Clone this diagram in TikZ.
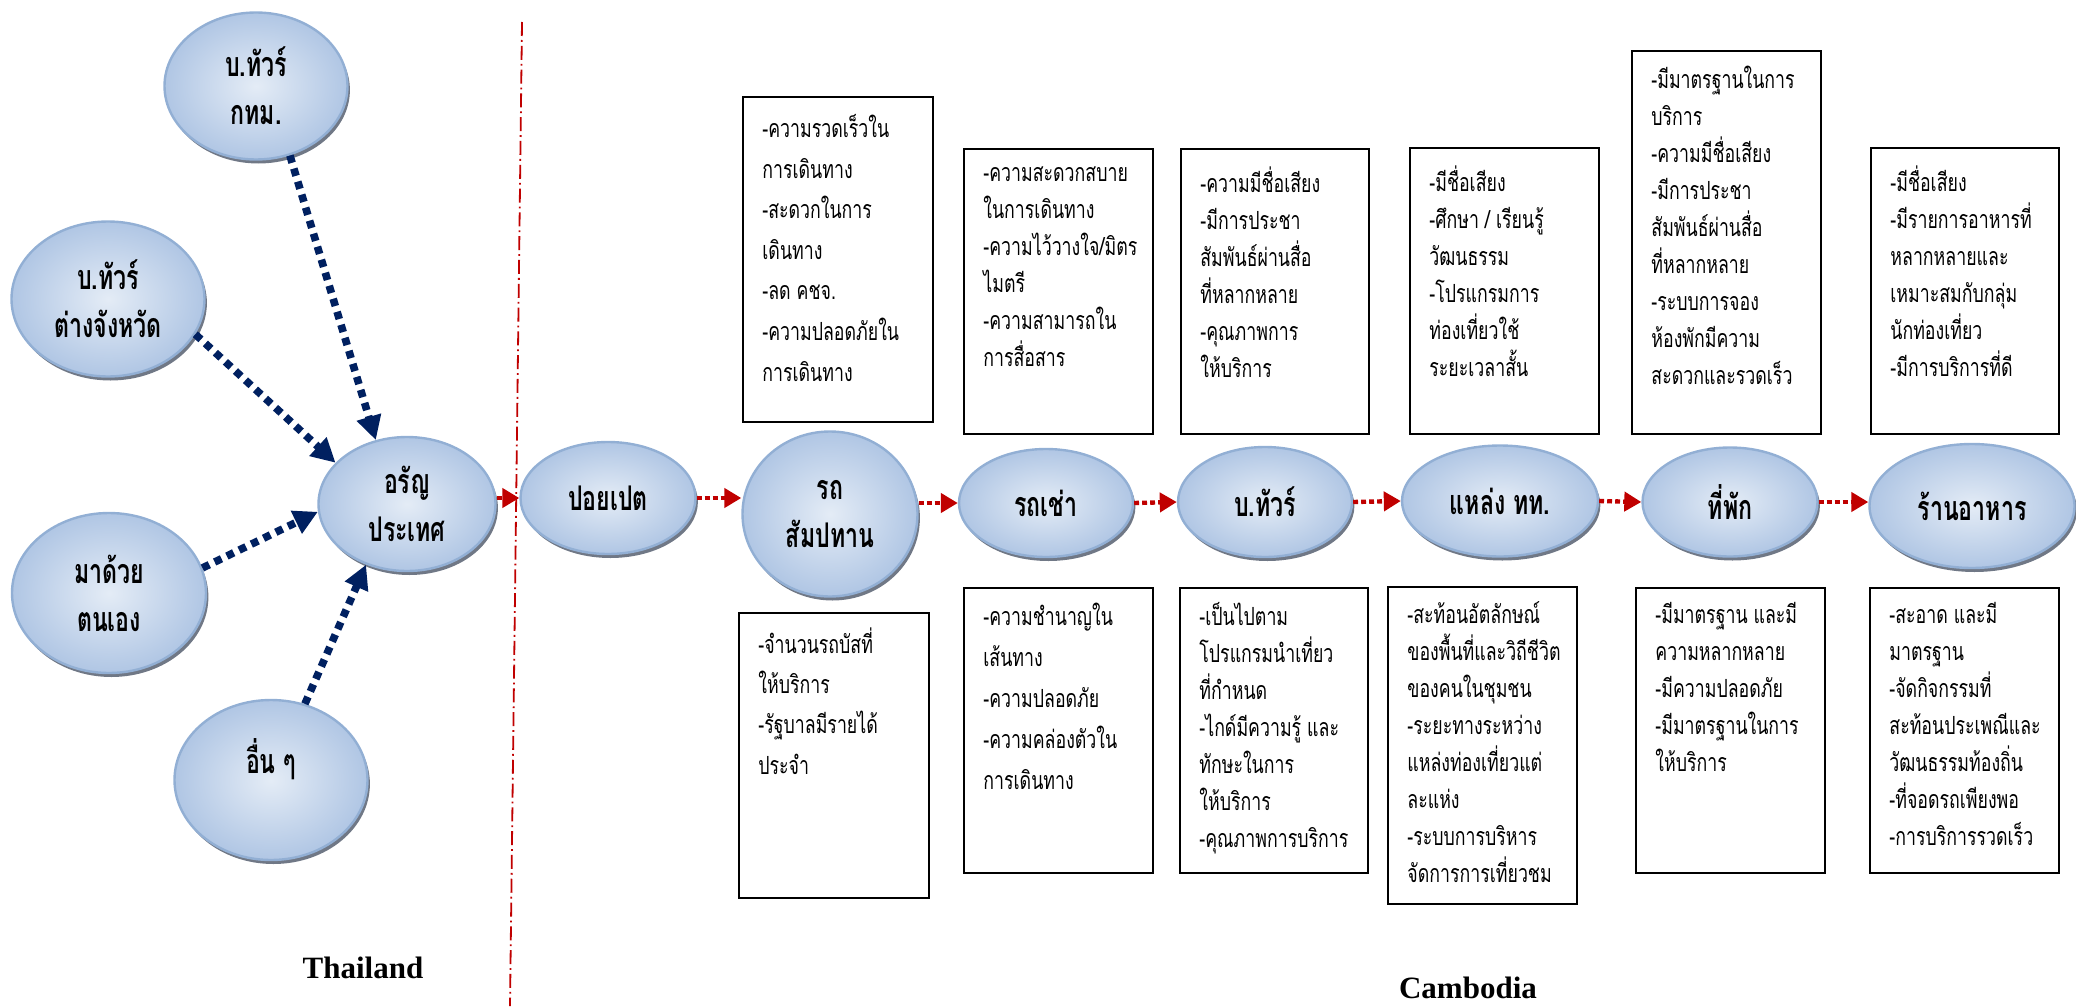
\documentclass[tikz,border=0pt]{standalone}
\usepackage{fontspec}
\usetikzlibrary{shapes.geometric, arrows.meta, shadows, calc}
\newfontfamily\thaibox[Script=Thai, FakeStretch=0.71]{Loma}
\newfontfamily\thaibold[Script=Thai, FakeStretch=0.68]{Loma}
\newfontfamily\enfont{Liberation Serif}
\definecolor{ellin}{RGB}{228,236,246}
\definecolor{ellout}{RGB}{176,198,228}
\definecolor{ellline}{RGB}{146,175,212}
\definecolor{ellshadow}{RGB}{112,120,134}
\definecolor{navyarrow}{RGB}{0,32,96}
\definecolor{redarrow}{RGB}{192,0,0}
\begin{document}
\begin{tikzpicture}[x=0.5pt, y=-0.5pt,
  ell/.style={ellipse, draw=ellline, line width=1.2pt, inner sep=0pt,
    shading=radial, inner color=ellin, outer color=ellout, align=center,
    font=\thaibold\bfseries\fontsize{17}{24}\selectfont,
    drop shadow={shadow xshift=1.2pt, shadow yshift=-2pt, fill=ellshadow, opacity=1}},
  boxst/.style={draw=black, line width=1pt, fill=white, inner sep=0pt, anchor=north west},
  btext/.style={anchor=north west, inner sep=0pt, align=left,
    font=\thaibox\fontsize{12.5}{18.5}\selectfont},
  navyarr/.style={navyarrow, line width=3.8pt, dash pattern=on 3.8pt off 3pt,
    -{Triangle[length=12pt, width=12pt]}},
  redarr/.style={redarrow, line width=2.2pt, dash pattern=on 2.4pt off 1.6pt,
    -{Triangle[length=8.5pt, width=9.5pt]}},
  sepline/.style={redarrow, line width=0.9pt, dash pattern=on 7pt off 2pt on 0.9pt off 2pt},
  enlabel/.style={inner sep=0pt, font=\enfont\bfseries\fontsize{15.5}{18}\selectfont}
]
\useasboundingbox (0,0) rectangle (2076,1006);

% separator
\coordinate (septop) at (522,22);
\coordinate (sepbot) at (510,1006);
\draw[sepline] (septop) -- (sepbot);

% left ellipses
\node[ell, minimum width=91.5pt, minimum height=73.5pt] (ktm) at (256,86) {บ.ทัวร์\\กทม.};
\node[ell, minimum width=96.5pt, minimum height=77.5pt] (prov) at (108,299) {บ.ทัวร์\\ต่างจังหวัด};
\node[ell, minimum width=88.5pt, minimum height=67pt] (arun) at (407,504) {อรัญ\\ประเทศ};
\node[ell, minimum width=97pt, minimum height=80pt] (self) at (109,593) {มาด้วย\\ตนเอง};
\node[ell, minimum width=96.5pt, minimum height=80pt] (other) at (271,780) {อื่น ๆ\\\mbox{}};

% chain ellipses
\node[ell, minimum width=87.5pt, minimum height=56pt] (poipet) at (608,498) {ปอยเปต};
\node[ell, minimum width=87.5pt, minimum height=82.5pt] (rot) at (830,514) {รถ\\สัมปทาน};
\node[ell, minimum width=87pt, minimum height=54pt] (rent) at (1046,503) {รถเช่า};
\node[ell, minimum width=87pt, minimum height=55pt] (tour) at (1265,502) {บ.ทัวร์};
\node[ell, minimum width=98pt, minimum height=55.5pt] (attr) at (1500,501) {แหล่ง ทท.};
\node[ell, minimum width=87.5pt, minimum height=54.5pt] (hotel) at (1730,502) {ที่พัก};
\node[ell, minimum width=102.5pt, minimum height=62pt] (rest) at (1972,506) {ร้านอาหาร};

% navy arrows
\draw[navyarr] (ktm.-64) -- (arun.116);
\draw[navyarr] (prov.-22) -- (arun.150);
\draw[navyarr] (self.15) -- (arun.185);
\draw[navyarr] (other.66) -- (arun.236);

% red arrows
\draw[redarr] (poipet.west -| arun.east) -- (poipet.west);
\draw[redarr] (poipet.east) -- (rot.west |- poipet.east);
\draw[redarr] (rent.west -| rot.east) -- (rent.west);
\draw[redarr] (rent.east) -- (tour.west);
\draw[redarr] (tour.east) -- (attr.west);
\draw[redarr] (attr.east) -- (hotel.west);
\draw[redarr] (hotel.east) -- (rest.west |- hotel.east);

% top boxes
\node[boxst, minimum width=95pt, minimum height=162.5pt] (bA) at (742,96) {};
\node[btext, font=\thaibox\fontsize{12.5}{20.3}\selectfont] (tA) at ([xshift=10pt, yshift=-9pt]bA.north west) {-ความรวดเร็วใน\\การเดินทาง\\-สะดวกในการ\\เดินทาง\\-ลด คชจ.\\-ความปลอดภัยใน\\การเดินทาง};
\node[boxst, minimum width=94.5pt, minimum height=142.5pt] (bB) at (963,148) {};
\node[btext] (tB) at ([xshift=10pt, yshift=-9pt]bB.north west) {-ความสะดวกสบาย\\ในการเดินทาง\\-ความไว้วางใจ/มิตร\\ไมตรี\\-ความสามารถใน\\การสื่อสาร};
\node[boxst, minimum width=94pt, minimum height=142.5pt] (bC) at (1180,148) {};
\node[btext] (tC) at ([xshift=10pt, yshift=-9pt]bC.north west) {-ความมีชื่อเสียง\\-มีการประชา\\สัมพันธ์ผ่านสื่อ\\ที่หลากหลาย\\-คุณภาพการ\\ให้บริการ};
\node[boxst, minimum width=94.5pt, minimum height=143pt] (bD) at (1409,147) {};
\node[btext] (tD) at ([xshift=10pt, yshift=-9pt]bD.north west) {-มีชื่อเสียง\\-ศึกษา / เรียนรู้\\วัฒนธรรม\\-โปรแกรมการ\\ท่องเที่ยวใช้\\ระยะเวลาสั้น};
\node[boxst, minimum width=94.5pt, minimum height=191.5pt] (bE) at (1631,50) {};
\node[btext] (tE) at ([xshift=10pt, yshift=-8pt]bE.north west) {-มีมาตรฐานในการ\\บริการ\\-ความมีชื่อเสียง\\-มีการประชา\\สัมพันธ์ผ่านสื่อ\\ที่หลากหลาย\\-ระบบการจอง\\ห้องพักมีความ\\สะดวกและรวดเร็ว};
\node[boxst, minimum width=94pt, minimum height=143pt] (bF) at (1870,147) {};
\node[btext] (tF) at ([xshift=10pt, yshift=-9pt]bF.north west) {-มีชื่อเสียง\\-มีรายการอาหารที่\\หลากหลายและ\\เหมาะสมกับกลุ่ม\\นักท่องเที่ยว\\-มีการบริการที่ดี};

% bottom boxes
\node[boxst, minimum width=95pt, minimum height=142.5pt] (bG) at (738,612) {};
\node[btext, font=\thaibox\fontsize{12.5}{20.2}\selectfont] (tG) at ([xshift=10pt, yshift=-7.5pt]bG.north west) {-จำนวนรถบัสที่\\ให้บริการ\\-รัฐบาลมีรายได้\\ประจำ};
\node[boxst, minimum width=94.5pt, minimum height=142.5pt] (bH) at (963,587) {};
\node[btext, font=\thaibox\fontsize{12.5}{20.4}\selectfont] (tH) at ([xshift=10pt, yshift=-8pt]bH.north west) {-ความชำนาญใน\\เส้นทาง\\-ความปลอดภัย\\-ความคล่องตัวใน\\การเดินทาง};
\node[boxst, minimum width=94pt, minimum height=142.5pt] (bI) at (1179,587) {};
\node[btext] (tI) at ([xshift=10pt, yshift=-7.5pt]bI.north west) {-เป็นไปตาม\\โปรแกรมนำเที่ยว\\ที่กำหนด\\-ไกด์มีความรู้ และ\\ทักษะในการ\\ให้บริการ\\-คุณภาพการบริการ};
\node[boxst, minimum width=94.5pt, minimum height=158.5pt] (bJ) at (1387,586) {};
\node[btext] (tJ) at ([xshift=10pt, yshift=-7.5pt]bJ.north west) {-สะท้อนอัตลักษณ์\\ของพื้นที่และวิถีชีวิต\\ของคนในชุมชน\\-ระยะทางระหว่าง\\แหล่งท่องเที่ยวแต่\\ละแห่ง\\-ระบบการบริหาร\\จัดการการเที่ยวชม};
\node[boxst, minimum width=94.5pt, minimum height=142.5pt] (bK) at (1635,587) {};
\node[btext] (tK) at ([xshift=10pt, yshift=-7.5pt]bK.north west) {-มีมาตรฐาน และมี\\ความหลากหลาย\\-มีความปลอดภัย\\-มีมาตรฐานในการ\\ให้บริการ};
\node[boxst, minimum width=94.5pt, minimum height=142.5pt] (bL) at (1869,587) {};
\node[btext] (tL) at ([xshift=10pt, yshift=-7.5pt]bL.north west) {-สะอาด และมี\\มาตรฐาน\\-จัดกิจกรรมที่\\สะท้อนประเพณีและ\\วัฒนธรรมท้องถิ่น\\-ที่จอดรถเพียงพอ\\-การบริการรวดเร็ว};

% country labels
\node[enlabel] (thai) at (363,968) {Thailand};
\node[enlabel] (camb) at (1468,988) {Cambodia};
\end{tikzpicture}
\end{document}
